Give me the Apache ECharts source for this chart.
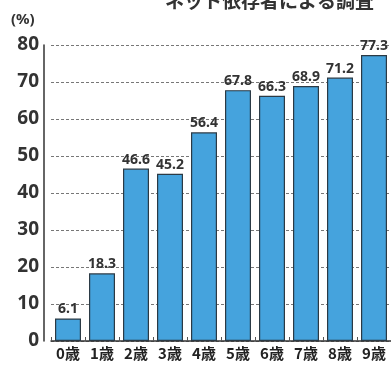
<!DOCTYPE html>
<html><head><meta charset="utf-8">
<script src="https://cdn.jsdelivr.net/npm/echarts@6/dist/echarts.min.js"></script>
<style>html,body{margin:0;padding:0;background:#fff}#c{width:391px;height:367px}</style>
</head><body><div id="c"></div>
<script>
const categories = ['0歳','1歳','2歳','3歳','4歳','5歳','6歳','7歳','8歳','9歳'];
const values = [6.1, 18.3, 46.6, 45.2, 56.4, 67.8, 66.3, 68.9, 71.2, 77.3];
const yTicks = [0, 10, 20, 30, 40, 50, 60, 70, 80];
const unitLabel = '(%)';
const titleText = 'ネット依存者による調査';

const chart = echarts.init(document.getElementById('c'));
chart.setOption({
  animation: false,
  textStyle: {fontFamily: '"Noto Sans CJK JP", "Noto Sans", sans-serif'},
  title: {text: titleText, left: 160, top: -14, textStyle: {fontSize: 19, fontWeight: 'bold', color: '#333'}},
  graphic: [{type: 'text', left: 11, top: 12, style: {text: unitLabel, fontSize: 15, fontWeight: 'bold', fill: '#333', fontFamily: '"Noto Sans", sans-serif'}}],
  grid: {left: 51, right: -2, top: 45, bottom: 26, containLabel: false},
  xAxis: {
    type: 'category', data: categories,
    axisLine: {show: true, lineStyle: {color: '#333', width: 1.5}},
    axisTick: {show: true, inside: true, length: 4, lineStyle: {color: '#555'}},
    axisLabel: {color: '#222', fontSize: 15, fontWeight: 'bold', margin: 5, fontFamily: '"Noto Sans CJK JP", sans-serif'}
  },
  yAxis: {
    type: 'value', min: yTicks[0], max: yTicks[yTicks.length-1], interval: 10, offset: 7,
    axisLine: {show: true, lineStyle: {color: '#333', width: 1.5}},
    axisTick: {show: false},
    axisLabel: {color: '#333', fontSize: 19, fontWeight: 'bold', margin: 5, fontFamily: '"Noto Sans", sans-serif'},
    splitLine: {show: true, lineStyle: {color: '#777', type: [3, 2], width: 1}}
  },
  series: [{
    type: 'bar', data: values, barWidth: 26,
    itemStyle: {color: '#45a3dd', borderColor: '#2b3a45', borderWidth: 1.2},
    label: {show: true, position: 'top', distance: 2, color: '#333', fontSize: 14, fontWeight: 'bold', fontFamily: '"Noto Sans", sans-serif'}
  }]
});
</script></body></html>
